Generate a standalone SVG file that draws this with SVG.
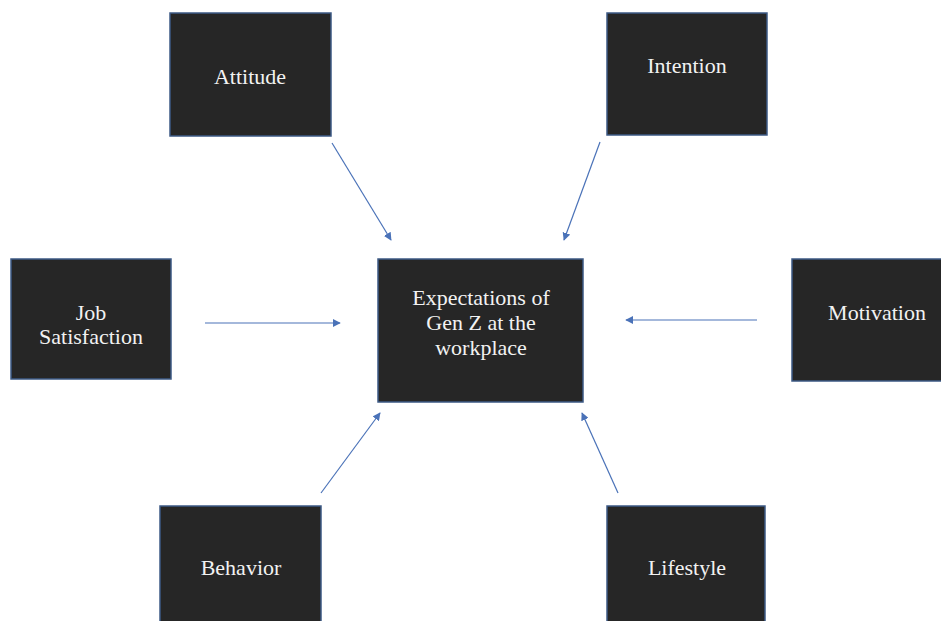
<svg xmlns="http://www.w3.org/2000/svg" width="941" height="621" viewBox="0 0 941 621">
<style>
.box{fill:#262626;stroke:#3d5a85;stroke-width:1.5}
.t{font-family:'Liberation Serif','DejaVu Serif',serif;font-size:22px;fill:#f2f2f2;text-anchor:middle}
.c{stroke:#4a72b8;stroke-width:1.2;fill:none;marker-end:url(#ah)}
</style>
<defs>
<marker id="ah" viewBox="0 0 10 10" refX="9" refY="5" markerWidth="8" markerHeight="8" markerUnits="userSpaceOnUse" orient="auto">
<path d="M0,0 L10,5 L0,10 z" fill="#4a72b8"/>
</marker>
</defs>
<rect width="941" height="621" fill="#ffffff"/>
<g id="connectors">
<line class="c" x1="332" y1="143" x2="391" y2="240"/>
<line class="c" x1="600" y1="142" x2="564" y2="240"/>
<line class="c" x1="205" y1="323" x2="340" y2="323"/>
<line class="c" x1="757" y1="320" x2="626" y2="320"/>
<line class="c" x1="321" y1="493" x2="380" y2="413"/>
<line class="c" x1="618" y1="493" x2="582" y2="413"/>
</g>
<g id="center">
<rect class="box" x="378" y="259" width="205" height="143"/>
<text class="t" x="481" y="305">Expectations of</text>
<text class="t" x="481" y="330">Gen Z at the</text>
<text class="t" x="481" y="355">workplace</text>
</g>
<g id="attitude">
<rect class="box" x="170" y="13" width="161" height="123"/>
<text class="t" x="250" y="84">Attitude</text>
</g>
<g id="intention">
<rect class="box" x="607" y="13" width="160" height="122"/>
<text class="t" x="687" y="73">Intention</text>
</g>
<g id="job">
<rect class="box" x="11" y="259" width="160" height="120"/>
<text class="t" x="91" y="320">Job</text>
<text class="t" x="91" y="344">Satisfaction</text>
</g>
<g id="motivation">
<rect class="box" x="792" y="259" width="155" height="122"/>
<text class="t" x="877" y="320">Motivation</text>
</g>
<g id="behavior">
<rect class="box" x="160" y="506" width="161" height="120"/>
<text class="t" x="241" y="575">Behavior</text>
</g>
<g id="lifestyle">
<rect class="box" x="607" y="506" width="158" height="120"/>
<text class="t" x="687" y="575">Lifestyle</text>
</g>
</svg>
